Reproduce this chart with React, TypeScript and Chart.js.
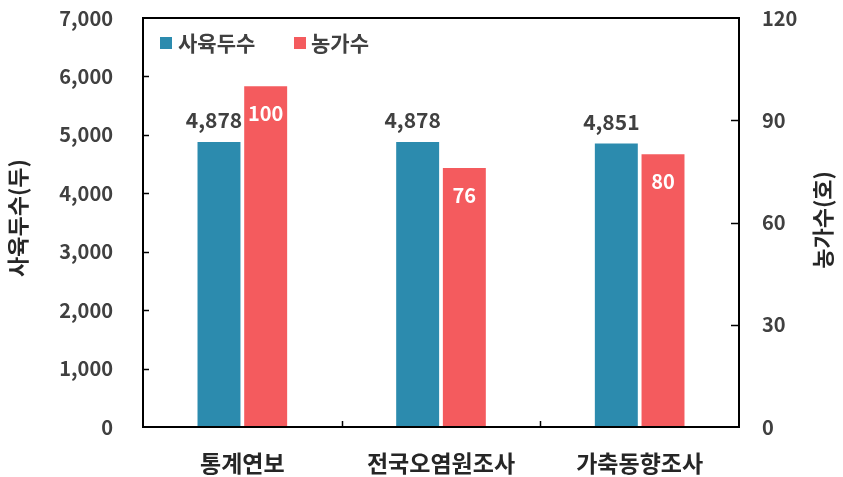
import React, { useEffect, useRef } from "react";
import { Chart, registerables } from "chart.js";

Chart.register(...registerables);

const categories = ["통계연보", "전국오염원조사", "가축동향조사"];
const headCounts = [4878, 4878, 4851];
const farmCounts = [100, 76, 80];
const seriesNames = ["사육두수", "농가수"];
const leftTitle = "사육두수(두)";
const rightTitle = "농가수(호)";
const leftMax = 7000;
const leftStep = 1000;
const rightMax = 120;
const rightStep = 30;

const BLUE = "#2C8BAE";
const RED = "#F45B5E";
const TEXT = "#404040";
const FONT = "'Noto Sans CJK KR', 'Noto Sans', sans-serif";

const zeroPad = (s: any) => {
  s.paddingTop = 0;
  s.paddingBottom = 0;
  s.paddingLeft = 0;
  s.paddingRight = 0;
};

const overlay = {
  id: "overlay",
  afterDatasetsDraw(chart: any) {
    const ctx = chart.ctx;
    ctx.save();
    ctx.textAlign = "center";
    ctx.textBaseline = "middle";
    ctx.font = `bold 21px ${FONT}`;
    const m0 = chart.getDatasetMeta(0);
    m0.data.forEach((bar: any, i: number) => {
      ctx.fillStyle = TEXT;
      ctx.fillText(headCounts[i].toLocaleString("en-US"), bar.x - 5, bar.y - 22);
    });
    ctx.font = `bold 20px ${FONT}`;
    const m1 = chart.getDatasetMeta(1);
    m1.data.forEach((bar: any, i: number) => {
      ctx.fillStyle = "#ffffff";
      ctx.fillText(String(farmCounts[i]), bar.x, bar.y + 27);
    });
    ctx.restore();
  },
  afterDraw(chart: any) {
    const ctx = chart.ctx;
    const a = chart.chartArea;
    ctx.save();
    ctx.strokeStyle = "#000";
    ctx.lineWidth = 2;
    ctx.strokeRect(a.left, a.top, a.right - a.left, a.bottom - a.top);
    ctx.lineWidth = 1.5;
    const y = chart.scales.y;
    for (let v = leftStep; v < leftMax; v += leftStep) {
      const py = Math.round(y.getPixelForValue(v)) + 0.5;
      ctx.beginPath();
      ctx.moveTo(a.left, py);
      ctx.lineTo(a.left + 6, py);
      ctx.stroke();
    }
    const y1 = chart.scales.y1;
    for (let v = rightStep; v < rightMax; v += rightStep) {
      const py = Math.round(y1.getPixelForValue(v)) + 0.5;
      ctx.beginPath();
      ctx.moveTo(a.right, py);
      ctx.lineTo(a.right - 8, py);
      ctx.stroke();
    }
    const n = categories.length;
    const w = (a.right - a.left) / n;
    for (let i = 1; i < n; i++) {
      const px = Math.round(a.left + w * i) + 0.5;
      ctx.beginPath();
      ctx.moveTo(px, a.bottom);
      ctx.lineTo(px, a.bottom - 6);
      ctx.stroke();
    }
    // legend
    ctx.textBaseline = "middle";
    ctx.textAlign = "left";
    ctx.font = `bold 21px ${FONT}`;
    ctx.fillStyle = BLUE;
    ctx.fillRect(160, 37, 12, 12);
    ctx.fillStyle = TEXT;
    ctx.fillText(seriesNames[0], 178, 43);
    ctx.fillStyle = RED;
    ctx.fillRect(294, 37, 12, 12);
    ctx.fillStyle = TEXT;
    ctx.fillText(seriesNames[1], 311, 43);
    // axis titles
    ctx.textAlign = "center";
    ctx.font = `bold 22px ${FONT}`;
    ctx.fillStyle = "#262626";
    ctx.translate(18, 218);
    ctx.rotate(-Math.PI / 2);
    ctx.fillText(leftTitle, 0, 0);
    ctx.setTransform(1, 0, 0, 1, 0, 0);
    ctx.translate(823, 220);
    ctx.rotate(-Math.PI / 2);
    ctx.fillText(rightTitle, 0, 0);
    ctx.restore();
  },
};

export default function App() {
  const ref = useRef<HTMLCanvasElement | null>(null);
  useEffect(() => {
    document.body.style.margin = "0";
    const chart = new Chart(ref.current as HTMLCanvasElement, {
      type: "bar",
      data: {
        labels: categories,
        datasets: [
          {
            label: seriesNames[0],
            data: headCounts,
            backgroundColor: BLUE,
            yAxisID: "y",
            categoryPercentage: 0.47,
            barPercentage: 0.92,
          },
          {
            label: seriesNames[1],
            data: farmCounts,
            backgroundColor: RED,
            yAxisID: "y1",
            categoryPercentage: 0.47,
            barPercentage: 0.92,
          },
        ],
      },
      options: {
        animation: false,
        responsive: false,
        maintainAspectRatio: false,
        layout: { padding: { top: 18, left: 0, right: 0, bottom: 0 } },
        plugins: { legend: { display: false }, tooltip: { enabled: false } },
        scales: {
          x: {
            grid: { display: false, drawTicks: false },
            border: { display: false },
            ticks: { color: "#262626", font: { family: FONT, size: 23, weight: "bold" }, padding: 22 },
            afterFit(s: any) {
              s.height = 50;
              zeroPad(s);
            },
          },
          y: {
            position: "left",
            min: 0,
            max: leftMax,
            grid: { display: false, drawTicks: false },
            border: { display: false },
            ticks: {
              stepSize: leftStep,
              color: TEXT,
              font: { family: FONT, size: 20, weight: "bold" },
              padding: 30,
              callback: (v: any) => Number(v).toLocaleString("en-US"),
            },
            afterFit(s: any) {
              s.width = 143;
              zeroPad(s);
            },
          },
          y1: {
            position: "right",
            min: 0,
            max: rightMax,
            grid: { display: false, drawTicks: false },
            border: { display: false },
            ticks: {
              stepSize: rightStep,
              color: TEXT,
              font: { family: FONT, size: 20, weight: "bold" },
              padding: 23,
            },
            afterFit(s: any) {
              s.width = 104;
              zeroPad(s);
            },
          },
        },
      },
      plugins: [overlay],
    });
    return () => chart.destroy();
  }, []);
  return (
    <div style={{ width: 843, height: 477, background: "#fff" }}>
      <canvas ref={ref} width={843} height={477} style={{ display: "block" }} />
    </div>
  );
}
